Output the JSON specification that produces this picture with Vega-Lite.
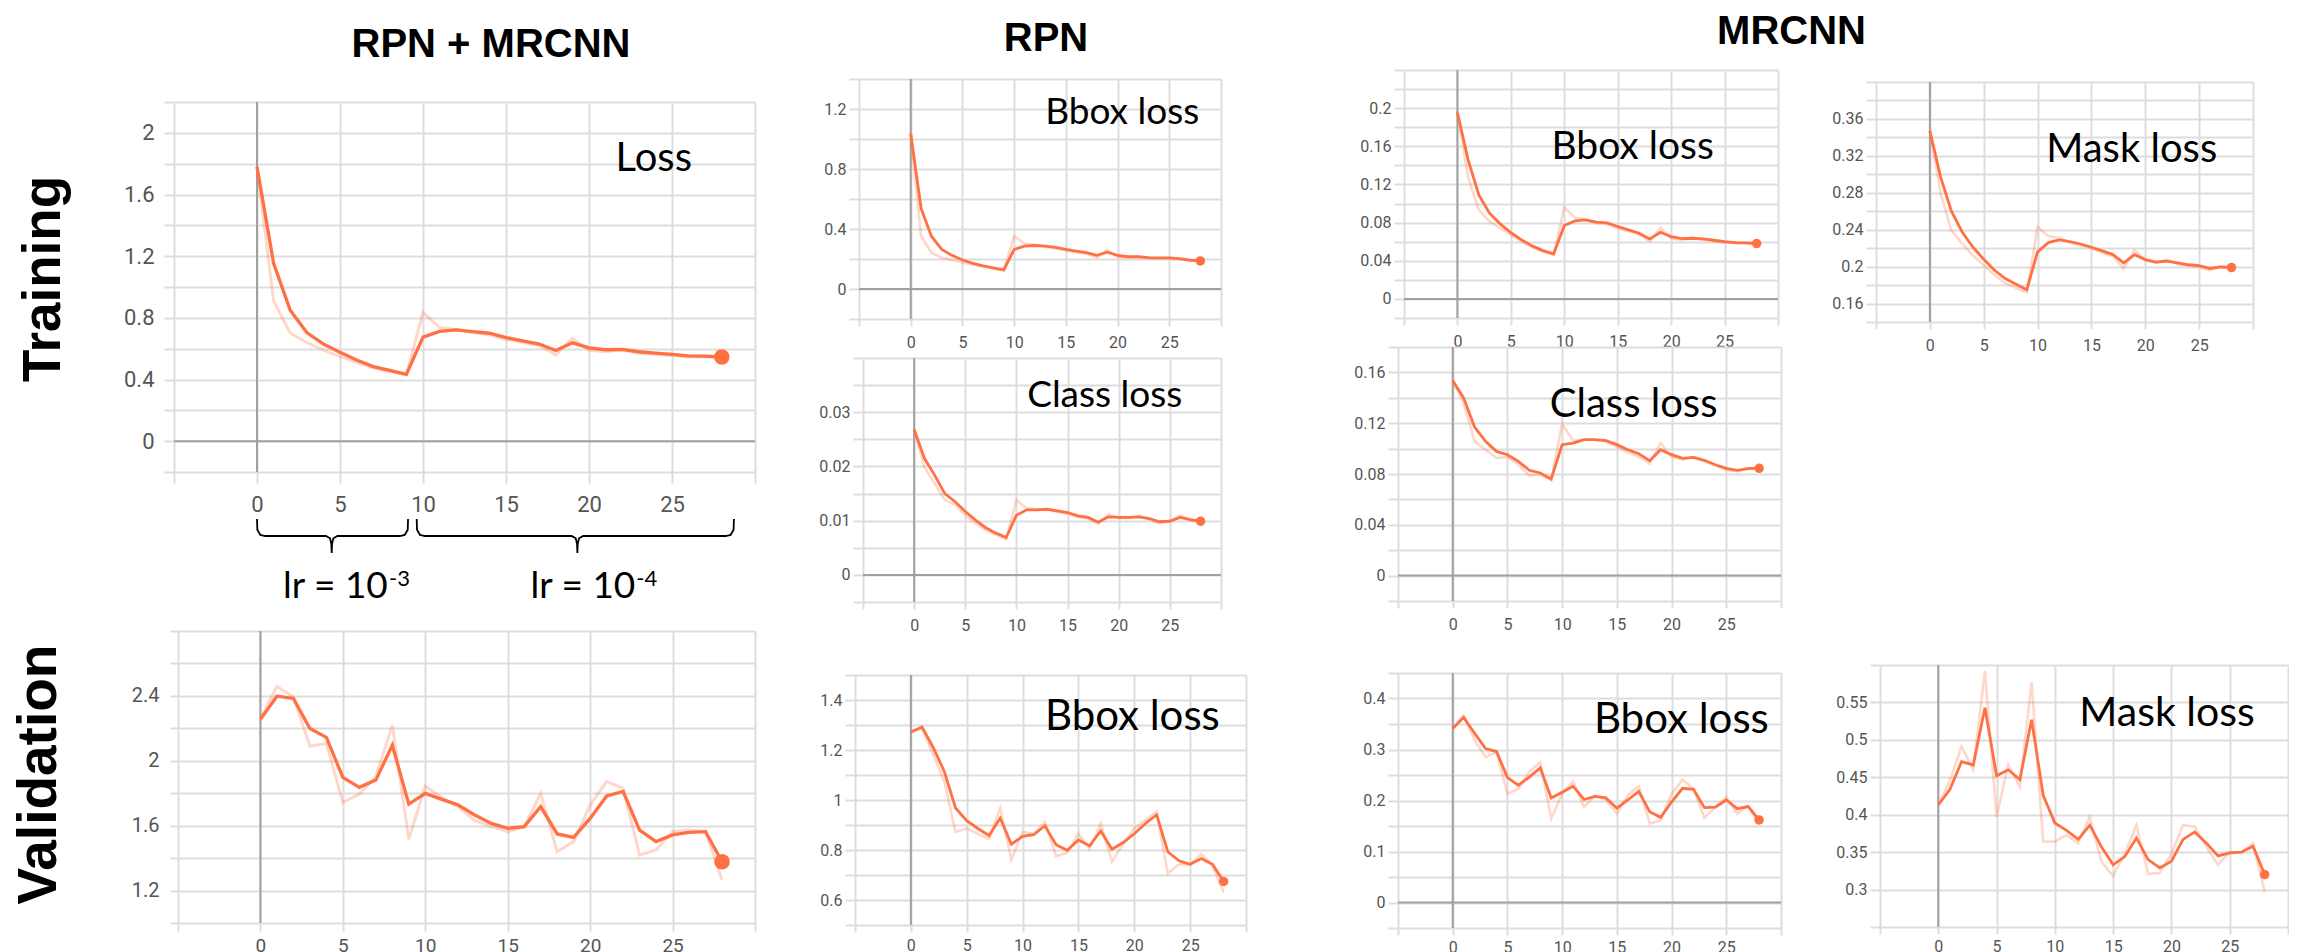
{
"$schema": "https://vega.github.io/schema/vega-lite/v6.json",
"padding": 0,
"background": "white",
"data": {"values": [{"k": 0}]},
"datasets": {
"trainTotal": [
{"step":0,"raw":1.78,"smoothed":1.78},{"step":1,"raw":0.91,"smoothed":1.154},{"step":2,"raw":0.70,"smoothed":0.85},{"step":3,"raw":0.64,"smoothed":0.705},{"step":4,"raw":0.59,"smoothed":0.63},{"step":5,"raw":0.55,"smoothed":0.576},{"step":6,"raw":0.51,"smoothed":0.526},{"step":7,"raw":0.476,"smoothed":0.484},{"step":8,"raw":0.45,"smoothed":0.459},{"step":9,"raw":0.43,"smoothed":0.434},{"step":10,"raw":0.836,"smoothed":0.675},{"step":11,"raw":0.737,"smoothed":0.712},{"step":12,"raw":0.725,"smoothed":0.722},{"step":13,"raw":0.705,"smoothed":0.71},{"step":14,"raw":0.69,"smoothed":0.70},{"step":15,"raw":0.66,"smoothed":0.672},{"step":16,"raw":0.64,"smoothed":0.65},{"step":17,"raw":0.62,"smoothed":0.63},{"step":18,"raw":0.56,"smoothed":0.588},{"step":19,"raw":0.667,"smoothed":0.638},{"step":20,"raw":0.59,"smoothed":0.605},{"step":21,"raw":0.58,"smoothed":0.593},{"step":22,"raw":0.593,"smoothed":0.596},{"step":23,"raw":0.57,"smoothed":0.58},{"step":24,"raw":0.563,"smoothed":0.571},{"step":25,"raw":0.556,"smoothed":0.563},{"step":26,"raw":0.546,"smoothed":0.553},{"step":27,"raw":0.548,"smoothed":0.551},{"step":28,"raw":0.543,"smoothed":0.546}],
"rpnBbox": [
{"step":0,"raw":1.037,"smoothed":1.037},{"step":1,"raw":0.352,"smoothed":0.538},{"step":2,"raw":0.242,"smoothed":0.352},{"step":3,"raw":0.209,"smoothed":0.264},{"step":4,"raw":0.193,"smoothed":0.224},{"step":5,"raw":0.176,"smoothed":0.193},{"step":6,"raw":0.163,"smoothed":0.171},{"step":7,"raw":0.149,"smoothed":0.154},{"step":8,"raw":0.136,"smoothed":0.141},{"step":9,"raw":0.125,"smoothed":0.127},{"step":10,"raw":0.352,"smoothed":0.264},{"step":11,"raw":0.303,"smoothed":0.286},{"step":12,"raw":0.295,"smoothed":0.29},{"step":13,"raw":0.281,"smoothed":0.286},{"step":14,"raw":0.27,"smoothed":0.277},{"step":15,"raw":0.257,"smoothed":0.264},{"step":16,"raw":0.246,"smoothed":0.253},{"step":17,"raw":0.235,"smoothed":0.242},{"step":18,"raw":0.209,"smoothed":0.224},{"step":19,"raw":0.259,"smoothed":0.246},{"step":20,"raw":0.215,"smoothed":0.224},{"step":21,"raw":0.209,"smoothed":0.215},{"step":22,"raw":0.215,"smoothed":0.215},{"step":23,"raw":0.204,"smoothed":0.209},{"step":24,"raw":0.204,"smoothed":0.207},{"step":25,"raw":0.204,"smoothed":0.207},{"step":26,"raw":0.198,"smoothed":0.202},{"step":27,"raw":0.189,"smoothed":0.193},{"step":28,"raw":0.185,"smoothed":0.187}],
"rpnClass": [
{"step":0,"raw":0.0268,"smoothed":0.0268},{"step":1,"raw":0.0199,"smoothed":0.0215},{"step":2,"raw":0.0169,"smoothed":0.0184},{"step":3,"raw":0.0138,"smoothed":0.015},{"step":4,"raw":0.0129,"smoothed":0.0135},{"step":5,"raw":0.011,"smoothed":0.0117},{"step":6,"raw":0.0095,"smoothed":0.0101},{"step":7,"raw":0.0083,"smoothed":0.0087},{"step":8,"raw":0.0074,"smoothed":0.0077},{"step":9,"raw":0.0066,"smoothed":0.0069},{"step":10,"raw":0.0138,"smoothed":0.011},{"step":11,"raw":0.0123,"smoothed":0.012},{"step":12,"raw":0.0121,"smoothed":0.012},{"step":13,"raw":0.0121,"smoothed":0.0121},{"step":14,"raw":0.0116,"smoothed":0.0118},{"step":15,"raw":0.0113,"smoothed":0.0115},{"step":16,"raw":0.0107,"smoothed":0.0109},{"step":17,"raw":0.0104,"smoothed":0.0106},{"step":18,"raw":0.0094,"smoothed":0.0097},{"step":19,"raw":0.0112,"smoothed":0.0107},{"step":20,"raw":0.0105,"smoothed":0.0106},{"step":21,"raw":0.0105,"smoothed":0.0106},{"step":22,"raw":0.0109,"smoothed":0.0107},{"step":23,"raw":0.0102,"smoothed":0.0104},{"step":24,"raw":0.0095,"smoothed":0.0098},{"step":25,"raw":0.0099,"smoothed":0.0099},{"step":26,"raw":0.011,"smoothed":0.0106},{"step":27,"raw":0.0101,"smoothed":0.0102},{"step":28,"raw":0.0098,"smoothed":0.0099}],
"mrcnnBbox": [
{"step":0,"raw":0.1955,"smoothed":0.1955},{"step":1,"raw":0.128,"smoothed":0.1458},{"step":2,"raw":0.0934,"smoothed":0.109},{"step":3,"raw":0.0811,"smoothed":0.0899},{"step":4,"raw":0.0741,"smoothed":0.0787},{"step":5,"raw":0.0671,"smoothed":0.0696},{"step":6,"raw":0.0601,"smoothed":0.0619},{"step":7,"raw":0.0542,"smoothed":0.0556},{"step":8,"raw":0.0497,"smoothed":0.0507},{"step":9,"raw":0.0462,"smoothed":0.0472},{"step":10,"raw":0.0958,"smoothed":0.0769},{"step":11,"raw":0.0853,"smoothed":0.0818},{"step":12,"raw":0.0829,"smoothed":0.0829},{"step":13,"raw":0.0794,"smoothed":0.0804},{"step":14,"raw":0.0787,"smoothed":0.0797},{"step":15,"raw":0.0741,"smoothed":0.0759},{"step":16,"raw":0.071,"smoothed":0.0724},{"step":17,"raw":0.0678,"smoothed":0.0689},{"step":18,"raw":0.0601,"smoothed":0.0629},{"step":19,"raw":0.0745,"smoothed":0.0699},{"step":20,"raw":0.0636,"smoothed":0.0654},{"step":21,"raw":0.0619,"smoothed":0.0633},{"step":22,"raw":0.064,"smoothed":0.0636},{"step":23,"raw":0.0619,"smoothed":0.0629},{"step":24,"raw":0.0605,"smoothed":0.0615},{"step":25,"raw":0.0591,"smoothed":0.0601},{"step":26,"raw":0.0584,"smoothed":0.0591},{"step":27,"raw":0.0584,"smoothed":0.0587},{"step":28,"raw":0.0577,"smoothed":0.058}],
"mask": [
{"step":0,"raw":0.347,"smoothed":0.347},{"step":1,"raw":0.279,"smoothed":0.297},{"step":2,"raw":0.239,"smoothed":0.26},{"step":3,"raw":0.225,"smoothed":0.2375},{"step":4,"raw":0.212,"smoothed":0.221},{"step":5,"raw":0.2015,"smoothed":0.208},{"step":6,"raw":0.191,"smoothed":0.196},{"step":7,"raw":0.182,"smoothed":0.187},{"step":8,"raw":0.177,"smoothed":0.181},{"step":9,"raw":0.172,"smoothed":0.175},{"step":10,"raw":0.243,"smoothed":0.216},{"step":11,"raw":0.233,"smoothed":0.226},{"step":12,"raw":0.231,"smoothed":0.229},{"step":13,"raw":0.226,"smoothed":0.227},{"step":14,"raw":0.223,"smoothed":0.2245},{"step":15,"raw":0.22,"smoothed":0.221},{"step":16,"raw":0.215,"smoothed":0.217},{"step":17,"raw":0.211,"smoothed":0.213},{"step":18,"raw":0.198,"smoothed":0.204},{"step":19,"raw":0.218,"smoothed":0.213},{"step":20,"raw":0.207,"smoothed":0.2076},{"step":21,"raw":0.204,"smoothed":0.205},{"step":22,"raw":0.2076,"smoothed":0.206},{"step":23,"raw":0.2025,"smoothed":0.204},{"step":24,"raw":0.201,"smoothed":0.202},{"step":25,"raw":0.1996,"smoothed":0.201},{"step":26,"raw":0.196,"smoothed":0.198},{"step":27,"raw":0.2004,"smoothed":0.1996},{"step":28,"raw":0.199,"smoothed":0.199}],
"mrcnnClass": [
{"step":0,"raw":0.1537,"smoothed":0.1537},{"step":1,"raw":0.1359,"smoothed":0.1398},{"step":2,"raw":0.1057,"smoothed":0.117},{"step":3,"raw":0.0991,"smoothed":0.1057},{"step":4,"raw":0.0926,"smoothed":0.0978},{"step":5,"raw":0.0934,"smoothed":0.0952},{"step":6,"raw":0.0873,"smoothed":0.09},{"step":7,"raw":0.0787,"smoothed":0.0829},{"step":8,"raw":0.0795,"smoothed":0.0808},{"step":9,"raw":0.075,"smoothed":0.0761},{"step":10,"raw":0.1196,"smoothed":0.1031},{"step":11,"raw":0.1062,"smoothed":0.1044},{"step":12,"raw":0.107,"smoothed":0.107},{"step":13,"raw":0.107,"smoothed":0.107},{"step":14,"raw":0.1057,"smoothed":0.1062},{"step":15,"raw":0.1012,"smoothed":0.1031},{"step":16,"raw":0.097,"smoothed":0.0991},{"step":17,"raw":0.0939,"smoothed":0.096},{"step":18,"raw":0.0881,"smoothed":0.0905},{"step":19,"raw":0.1044,"smoothed":0.0991},{"step":20,"raw":0.0934,"smoothed":0.0952},{"step":21,"raw":0.0913,"smoothed":0.0923},{"step":22,"raw":0.0934,"smoothed":0.0931},{"step":23,"raw":0.09,"smoothed":0.0908},{"step":24,"raw":0.0866,"smoothed":0.0873},{"step":25,"raw":0.0834,"smoothed":0.0845},{"step":26,"raw":0.0821,"smoothed":0.0829},{"step":27,"raw":0.0847,"smoothed":0.0842},{"step":28,"raw":0.0845,"smoothed":0.0845}],
"valTotal": [
{"step":0,"raw":2.256,"smoothed":2.256},{"step":1,"raw":2.459,"smoothed":2.398},{"step":2,"raw":2.394,"smoothed":2.384},{"step":3,"raw":2.09,"smoothed":2.199},{"step":4,"raw":2.107,"smoothed":2.144},{"step":5,"raw":1.742,"smoothed":1.897},{"step":6,"raw":1.795,"smoothed":1.836},{"step":7,"raw":1.902,"smoothed":1.881},{"step":8,"raw":2.22,"smoothed":2.096},{"step":9,"raw":1.516,"smoothed":1.733},{"step":10,"raw":1.844,"smoothed":1.799},{"step":11,"raw":1.774,"smoothed":1.762},{"step":12,"raw":1.717,"smoothed":1.727},{"step":13,"raw":1.631,"smoothed":1.666},{"step":14,"raw":1.594,"smoothed":1.614},{"step":15,"raw":1.563,"smoothed":1.584},{"step":16,"raw":1.594,"smoothed":1.594},{"step":17,"raw":1.799,"smoothed":1.717},{"step":18,"raw":1.44,"smoothed":1.549},{"step":19,"raw":1.502,"smoothed":1.528},{"step":20,"raw":1.727,"smoothed":1.645},{"step":21,"raw":1.871,"smoothed":1.783},{"step":22,"raw":1.83,"smoothed":1.811},{"step":23,"raw":1.419,"smoothed":1.573},{"step":24,"raw":1.45,"smoothed":1.502},{"step":25,"raw":1.563,"smoothed":1.543},{"step":26,"raw":1.573,"smoothed":1.559},{"step":27,"raw":1.563,"smoothed":1.563},{"step":28,"raw":1.266,"smoothed":1.378}],
"valRpn": [
{"step":0,"raw":1.272,"smoothed":1.272},{"step":1,"raw":1.286,"smoothed":1.292},{"step":2,"raw":1.182,"smoothed":1.21},{"step":3,"raw":1.072,"smoothed":1.113},{"step":4,"raw":0.872,"smoothed":0.968},{"step":5,"raw":0.886,"smoothed":0.917},{"step":6,"raw":0.865,"smoothed":0.886},{"step":7,"raw":0.844,"smoothed":0.858},{"step":8,"raw":0.968,"smoothed":0.927},{"step":9,"raw":0.761,"smoothed":0.823},{"step":10,"raw":0.872,"smoothed":0.855},{"step":11,"raw":0.865,"smoothed":0.861},{"step":12,"raw":0.913,"smoothed":0.897},{"step":13,"raw":0.775,"smoothed":0.821},{"step":14,"raw":0.789,"smoothed":0.799},{"step":15,"raw":0.865,"smoothed":0.84},{"step":16,"raw":0.803,"smoothed":0.817},{"step":17,"raw":0.906,"smoothed":0.876},{"step":18,"raw":0.754,"smoothed":0.803},{"step":19,"raw":0.823,"smoothed":0.83},{"step":20,"raw":0.886,"smoothed":0.865},{"step":21,"raw":0.92,"smoothed":0.906},{"step":22,"raw":0.954,"smoothed":0.941},{"step":23,"raw":0.706,"smoothed":0.793},{"step":24,"raw":0.743,"smoothed":0.757},{"step":25,"raw":0.741,"smoothed":0.743},{"step":26,"raw":0.785,"smoothed":0.766},{"step":27,"raw":0.738,"smoothed":0.743},{"step":28,"raw":0.63,"smoothed":0.674}],
"valMrcnn": [
{"step":0,"raw":0.341,"smoothed":0.341},{"step":1,"raw":0.367,"smoothed":0.363},{"step":2,"raw":0.318,"smoothed":0.332},{"step":3,"raw":0.285,"smoothed":0.302},{"step":4,"raw":0.295,"smoothed":0.296},{"step":5,"raw":0.213,"smoothed":0.245},{"step":6,"raw":0.223,"smoothed":0.23},{"step":7,"raw":0.256,"smoothed":0.246},{"step":8,"raw":0.275,"smoothed":0.264},{"step":9,"raw":0.165,"smoothed":0.205},{"step":10,"raw":0.213,"smoothed":0.216},{"step":11,"raw":0.238,"smoothed":0.228},{"step":12,"raw":0.187,"smoothed":0.202},{"step":13,"raw":0.21,"smoothed":0.208},{"step":14,"raw":0.201,"smoothed":0.205},{"step":15,"raw":0.174,"smoothed":0.185},{"step":16,"raw":0.21,"smoothed":0.201},{"step":17,"raw":0.228,"smoothed":0.218},{"step":18,"raw":0.155,"smoothed":0.178},{"step":19,"raw":0.161,"smoothed":0.167},{"step":20,"raw":0.213,"smoothed":0.197},{"step":21,"raw":0.241,"smoothed":0.224},{"step":22,"raw":0.223,"smoothed":0.222},{"step":23,"raw":0.166,"smoothed":0.186},{"step":24,"raw":0.187,"smoothed":0.187},{"step":25,"raw":0.207,"smoothed":0.201},{"step":26,"raw":0.174,"smoothed":0.184},{"step":27,"raw":0.19,"smoothed":0.188},{"step":28,"raw":0.151,"smoothed":0.162}],
"valMask": [
{"step":0,"raw":0.413,"smoothed":0.413},{"step":1,"raw":0.446,"smoothed":0.434},{"step":2,"raw":0.491,"smoothed":0.471},{"step":3,"raw":0.46,"smoothed":0.4665},{"step":4,"raw":0.592,"smoothed":0.543},{"step":5,"raw":0.397,"smoothed":0.452},{"step":6,"raw":0.4665,"smoothed":0.46},{"step":7,"raw":0.4375,"smoothed":0.447},{"step":8,"raw":0.577,"smoothed":0.527},{"step":9,"raw":0.364,"smoothed":0.426},{"step":10,"raw":0.364,"smoothed":0.389},{"step":11,"raw":0.373,"smoothed":0.379},{"step":12,"raw":0.362,"smoothed":0.367},{"step":13,"raw":0.397,"smoothed":0.386},{"step":14,"raw":0.337,"smoothed":0.357},{"step":15,"raw":0.318,"smoothed":0.333},{"step":16,"raw":0.348,"smoothed":0.344},{"step":17,"raw":0.386,"smoothed":0.369},{"step":18,"raw":0.321,"smoothed":0.34},{"step":19,"raw":0.322,"smoothed":0.329},{"step":20,"raw":0.348,"smoothed":0.338},{"step":21,"raw":0.386,"smoothed":0.367},{"step":22,"raw":0.384,"smoothed":0.377},{"step":23,"raw":0.357,"smoothed":0.362},{"step":24,"raw":0.333,"smoothed":0.345},{"step":25,"raw":0.35,"smoothed":0.349},{"step":26,"raw":0.349,"smoothed":0.35},{"step":27,"raw":0.362,"smoothed":0.358},{"step":28,"raw":0.297,"smoothed":0.32}],
"braces": [
{"brace":"a","i":0,"x":0.0,"y":0.863},{"brace":"a","i":1,"x":0.02,"y":0.75},{"brace":"a","i":2,"x":0.2,"y":0.695},{"brace":"a","i":3,"x":0.5,"y":0.684},{"brace":"a","i":4,"x":4.15,"y":0.684},{"brace":"a","i":5,"x":4.4,"y":0.66},{"brace":"a","i":6,"x":4.48,"y":0.6},{"brace":"a","i":7,"x":4.5,"y":0.505},{"brace":"a","i":8,"x":4.52,"y":0.6},{"brace":"a","i":9,"x":4.6,"y":0.66},{"brace":"a","i":10,"x":4.85,"y":0.684},{"brace":"a","i":11,"x":8.6,"y":0.684},{"brace":"a","i":12,"x":8.9,"y":0.695},{"brace":"a","i":13,"x":9.08,"y":0.75},{"brace":"a","i":14,"x":9.1,"y":0.863},
{"brace":"b","i":0,"x":9.62,"y":0.863},{"brace":"b","i":1,"x":9.64,"y":0.75},{"brace":"b","i":2,"x":9.82,"y":0.695},{"brace":"b","i":3,"x":10.12,"y":0.684},{"brace":"b","i":4,"x":18.95,"y":0.684},{"brace":"b","i":5,"x":19.2,"y":0.66},{"brace":"b","i":6,"x":19.28,"y":0.6},{"brace":"b","i":7,"x":19.3,"y":0.505},{"brace":"b","i":8,"x":19.32,"y":0.6},{"brace":"b","i":9,"x":19.4,"y":0.66},{"brace":"b","i":10,"x":19.65,"y":0.684},{"brace":"b","i":11,"x":28.23,"y":0.684},{"brace":"b","i":12,"x":28.53,"y":0.695},{"brace":"b","i":13,"x":28.71,"y":0.75},{"brace":"b","i":14,"x":28.73,"y":0.863}]
},
"spacing": 0,
"bounds": "flush",
"resolve": {"scale": {"x": "independent", "y": "independent"}},
"hconcat": [
{"spacing": 0, "bounds": "flush", "vconcat": [
 {"spacing": 0, "bounds": "flush", "hconcat": [
  {"width": 174, "height": 1, "mark": {"type": "text", "text": ""}},
  {"width": 581, "height": 96, "mark": {"type": "text", "text": "RPN + MRCNN", "font": "Liberation Sans", "fontWeight": "bold", "fontSize": 40, "align": "center", "baseline": "middle", "dx": 26.5, "dy": -9.2, "color": "#000"}}
 ]},
 {"width": 1, "height": 96, "mark": {"type": "text", "text": ""}},
 {"spacing": 0, "bounds": "flush", "hconcat": [
  {"width": 174, "height": 370, "mark": {"type": "text", "text": "Training", "font": "Liberation Sans", "fontWeight": "bold", "fontSize": 53, "angle": 270, "align": "center", "baseline": "middle", "dx": 8, "dy": -43.5, "color": "#000"}},
  {"width": 581, "height": 370, "data": {"name": "trainTotal"}, "resolve": {"axis": {"y": "independent"}}, "layer": [
   {"data": {"values": [{"k": 0}]}, "mark": {"type": "rule", "color": "#a0a0a0", "strokeWidth": 2}, "encoding": {"x": {"datum": 0, "type": "quantitative", "scale": {"domain": [-5, 30], "nice": false, "zero": false}}}},
   {"data": {"values": [{"k": 0}]}, "mark": {"type": "rule", "color": "#a0a0a0", "strokeWidth": 2}, "encoding": {"y": {"datum": 0, "type": "quantitative", "scale": {"domain": [-0.2, 2.2], "nice": false, "zero": false}, "axis": null}}},
   {"mark": {"type": "line", "color": "#ff7043", "opacity": 0.28, "strokeWidth": 3}, "encoding": {"x": {"field": "step", "type": "quantitative", "scale": {"domain": [-5, 30], "nice": false, "zero": false}}, "y": {"field": "raw", "type": "quantitative", "scale": {"domain": [-0.2, 2.2], "nice": false, "zero": false}, "axis": {"values": [-0.2,0.2,0.6,1,1.4,1.8,2.2], "labels": false, "grid": true, "title": null, "orient": "left", "tickSize": 10}}}},
   {"mark": {"type": "line", "color": "#ff7043", "strokeWidth": 3.3}, "encoding": {"x": {"field": "step", "type": "quantitative", "scale": {"domain": [-5, 30], "nice": false, "zero": false}, "axis": {"values": [-5,0,5,10,15,20,25,30], "labelExpr": "datum.value >= 0 && datum.value <= 25 ? datum.label : ''", "title": null, "grid": true, "labelOverlap": false, "labelFontSize": 22, "tickSize": 11, "labelPadding": 11}}, "y": {"field": "smoothed", "type": "quantitative", "scale": {"domain": [-0.2, 2.2], "nice": false, "zero": false}, "axis": {"values": [0,0.4,0.8,1.2,1.6,2], "labelExpr": "'' + datum.value", "grid": true, "title": null, "orient": "left", "labelOverlap": false, "labelFontSize": 22, "tickSize": 10, "labelPadding": 10}}}},
   {"transform": [{"filter": "datum.step == 28"}], "mark": {"type": "point", "filled": true, "opacity": 1, "color": "#ff7043", "size": 240}, "encoding": {"x": {"field": "step", "type": "quantitative", "scale": {"domain": [-5, 30], "nice": false, "zero": false}}, "y": {"field": "smoothed", "type": "quantitative", "scale": {"domain": [-0.2, 2.2], "nice": false, "zero": false}, "axis": null}}},
   {"data": {"values": [{"label": "Loss"}]}, "mark": {"type": "text", "font": "Lato", "fontSize": 40, "align": "left", "baseline": "alphabetic", "color": "#000"}, "encoding": {"x": {"datum": 21.6, "type": "quantitative"}, "y": {"datum": 1.75, "type": "quantitative", "axis": null}, "text": {"field": "label"}}}
  ]}
 ]},
 {"width": 1, "height": 404, "mark": {"type": "text", "text": ""}},
 {"spacing": 0, "bounds": "flush", "hconcat": [
  {"width": 174, "height": 1, "mark": {"type": "text", "text": ""}},
  {"width": 581, "height": 95, "layer": [
   {"data": {"name": "braces"}, "mark": {"type": "line", "color": "#000", "strokeWidth": 1.8}, "encoding": {"x": {"field": "x", "type": "quantitative", "scale": {"domain": [-5, 30], "nice": false, "zero": false}, "axis": null}, "y": {"field": "y", "type": "quantitative", "scale": {"domain": [0, 1], "nice": false, "zero": false}, "axis": null}, "detail": {"field": "brace"}, "order": {"field": "i"}}},
   {"data": {"values": [{"label": "lr = 10"}]}, "mark": {"type": "text", "font": "Lato", "fontSize": 37, "align": "left", "baseline": "alphabetic", "color": "#000"}, "encoding": {"x": {"datum": 1.57, "type": "quantitative", "axis": null}, "y": {"datum": 0.032, "type": "quantitative", "axis": null}, "text": {"field": "label"}}},
   {"data": {"values": [{"label": "-3"}]}, "mark": {"type": "text", "font": "Lato", "fontSize": 22, "align": "left", "baseline": "alphabetic", "color": "#000"}, "encoding": {"x": {"datum": 7.95, "type": "quantitative", "axis": null}, "y": {"datum": 0.158, "type": "quantitative", "axis": null}, "text": {"field": "label"}}},
   {"data": {"values": [{"label": "lr = 10"}]}, "mark": {"type": "text", "font": "Lato", "fontSize": 37, "align": "left", "baseline": "alphabetic", "color": "#000"}, "encoding": {"x": {"datum": 16.48, "type": "quantitative", "axis": null}, "y": {"datum": 0.032, "type": "quantitative", "axis": null}, "text": {"field": "label"}}},
   {"data": {"values": [{"label": "-4"}]}, "mark": {"type": "text", "font": "Lato", "fontSize": 22, "align": "left", "baseline": "alphabetic", "color": "#000"}, "encoding": {"x": {"datum": 22.85, "type": "quantitative", "axis": null}, "y": {"datum": 0.158, "type": "quantitative", "axis": null}, "text": {"field": "label"}}}
  ]}
 ]},
 {"width": 1, "height": 125, "mark": {"type": "text", "text": ""}},
 {"spacing": 0, "bounds": "flush", "hconcat": [
  {"width": 178, "height": 292, "mark": {"type": "text", "text": "Validation", "font": "Liberation Sans", "fontWeight": "bold", "fontSize": 55, "angle": 270, "align": "center", "baseline": "middle", "dx": 2.5, "dy": -50, "color": "#000"}},
  {"width": 577, "height": 292, "data": {"name": "valTotal"}, "resolve": {"axis": {"y": "independent"}}, "layer": [
   {"data": {"values": [{"k": 0}]}, "mark": {"type": "rule", "color": "#a0a0a0", "strokeWidth": 2}, "encoding": {"x": {"datum": 0, "type": "quantitative", "scale": {"domain": [-5, 30], "nice": false, "zero": false}}}},
   {"mark": {"type": "line", "color": "#ff7043", "opacity": 0.28, "strokeWidth": 3}, "encoding": {"x": {"field": "step", "type": "quantitative", "scale": {"domain": [-5, 30], "nice": false, "zero": false}}, "y": {"field": "raw", "type": "quantitative", "scale": {"domain": [1.0, 2.8], "nice": false, "zero": false}, "axis": {"values": [1,1.4,1.8,2.2,2.6,2.8], "labels": false, "grid": true, "title": null, "orient": "left", "tickSize": 8}}}},
   {"mark": {"type": "line", "color": "#ff7043", "strokeWidth": 3.3}, "encoding": {"x": {"field": "step", "type": "quantitative", "scale": {"domain": [-5, 30], "nice": false, "zero": false}, "axis": {"values": [-5,0,5,10,15,20,25,30], "labelExpr": "datum.value >= 0 && datum.value <= 25 ? datum.label : ''", "title": null, "grid": true, "labelOverlap": false, "labelFontSize": 19, "tickSize": 8, "labelPadding": 5}}, "y": {"field": "smoothed", "type": "quantitative", "scale": {"domain": [1.0, 2.8], "nice": false, "zero": false}, "axis": {"values": [1.2,1.6,2,2.4], "labelExpr": "'' + datum.value", "grid": true, "title": null, "orient": "left", "labelOverlap": false, "labelFontSize": 20, "tickSize": 8, "labelPadding": 11}}}},
   {"transform": [{"filter": "datum.step == 28"}], "mark": {"type": "point", "filled": true, "opacity": 1, "color": "#ff7043", "size": 240}, "encoding": {"x": {"field": "step", "type": "quantitative", "scale": {"domain": [-5, 30], "nice": false, "zero": false}}, "y": {"field": "smoothed", "type": "quantitative", "scale": {"domain": [1.0, 2.8], "nice": false, "zero": false}, "axis": null}}}
  ]}
 ]}
]},
{"spacing": 0, "bounds": "flush", "vconcat": [
 {"spacing": 0, "bounds": "flush", "hconcat": [
  {"width": 859, "height": 1, "mark": {"type": "text", "text": ""}},
  {"width": 362, "height": 73, "mark": {"type": "text", "text": "RPN", "font": "Liberation Sans", "fontWeight": "bold", "fontSize": 40, "align": "center", "baseline": "middle", "dx": 6, "dy": -3.2, "color": "#000"}}
 ]},
 {"width": 1, "height": 73, "mark": {"type": "text", "text": ""}},
 {"spacing": 0, "bounds": "flush", "hconcat": [
  {"width": 859, "height": 1, "mark": {"type": "text", "text": ""}},
  {"width": 362, "height": 240, "data": {"name": "rpnBbox"}, "resolve": {"axis": {"y": "independent"}}, "layer": [
   {"data": {"values": [{"k": 0}]}, "mark": {"type": "rule", "color": "#a0a0a0", "strokeWidth": 2}, "encoding": {"x": {"datum": 0, "type": "quantitative", "scale": {"domain": [-5, 30], "nice": false, "zero": false}}}},
   {"data": {"values": [{"k": 0}]}, "mark": {"type": "rule", "color": "#a0a0a0", "strokeWidth": 2}, "encoding": {"y": {"datum": 0, "type": "quantitative", "scale": {"domain": [-0.2, 1.4], "nice": false, "zero": false}, "axis": null}}},
   {"mark": {"type": "line", "color": "#ff7043", "opacity": 0.28, "strokeWidth": 2.6}, "encoding": {"x": {"field": "step", "type": "quantitative", "scale": {"domain": [-5, 30], "nice": false, "zero": false}}, "y": {"field": "raw", "type": "quantitative", "scale": {"domain": [-0.2, 1.4], "nice": false, "zero": false}, "axis": {"values": [-0.2,0.2,0.6,1,1.4], "labels": false, "grid": true, "title": null, "orient": "left"}}}},
   {"mark": {"type": "line", "color": "#ff7043", "strokeWidth": 2.8}, "encoding": {"x": {"field": "step", "type": "quantitative", "scale": {"domain": [-5, 30], "nice": false, "zero": false}, "axis": {"values": [-5,0,5,10,15,20,25,30], "labelExpr": "datum.value >= 0 && datum.value <= 25 ? datum.label : ''", "title": null, "grid": true, "labelOverlap": false}}, "y": {"field": "smoothed", "type": "quantitative", "scale": {"domain": [-0.2, 1.4], "nice": false, "zero": false}, "axis": {"values": [0,0.4,0.8,1.2], "labelExpr": "'' + datum.value", "grid": true, "title": null, "orient": "left", "labelOverlap": false}}}},
   {"transform": [{"filter": "datum.step == 28"}], "mark": {"type": "point", "filled": true, "opacity": 1, "color": "#ff7043", "size": 90}, "encoding": {"x": {"field": "step", "type": "quantitative", "scale": {"domain": [-5, 30], "nice": false, "zero": false}}, "y": {"field": "smoothed", "type": "quantitative", "scale": {"domain": [-0.2, 1.4], "nice": false, "zero": false}, "axis": null}}},
   {"data": {"values": [{"label": "Bbox loss"}]}, "mark": {"type": "text", "font": "Lato", "fontSize": 37, "align": "left", "baseline": "alphabetic", "color": "#000"}, "encoding": {"x": {"datum": 13.0, "type": "quantitative"}, "y": {"datum": 1.1, "type": "quantitative", "axis": null}, "text": {"field": "label"}}}
  ]}
 ]},
 {"width": 1, "height": 279, "mark": {"type": "text", "text": ""}},
 {"spacing": 0, "bounds": "flush", "hconcat": [
  {"width": 863, "height": 1, "mark": {"type": "text", "text": ""}},
  {"width": 358, "height": 244, "data": {"name": "rpnClass"}, "resolve": {"axis": {"y": "independent"}}, "layer": [
   {"data": {"values": [{"k": 0}]}, "mark": {"type": "rule", "color": "#a0a0a0", "strokeWidth": 2}, "encoding": {"x": {"datum": 0, "type": "quantitative", "scale": {"domain": [-5, 30], "nice": false, "zero": false}}}},
   {"data": {"values": [{"k": 0}]}, "mark": {"type": "rule", "color": "#a0a0a0", "strokeWidth": 2}, "encoding": {"y": {"datum": 0, "type": "quantitative", "scale": {"domain": [-0.005, 0.04], "nice": false, "zero": false}, "axis": null}}},
   {"mark": {"type": "line", "color": "#ff7043", "opacity": 0.28, "strokeWidth": 2.6}, "encoding": {"x": {"field": "step", "type": "quantitative", "scale": {"domain": [-5, 30], "nice": false, "zero": false}}, "y": {"field": "raw", "type": "quantitative", "scale": {"domain": [-0.005, 0.04], "nice": false, "zero": false}, "axis": {"values": [-0.005,0.005,0.015,0.025,0.035,0.04], "labels": false, "grid": true, "title": null, "orient": "left"}}}},
   {"mark": {"type": "line", "color": "#ff7043", "strokeWidth": 2.8}, "encoding": {"x": {"field": "step", "type": "quantitative", "scale": {"domain": [-5, 30], "nice": false, "zero": false}, "axis": {"values": [-5,0,5,10,15,20,25,30], "labelExpr": "datum.value >= 0 && datum.value <= 25 ? datum.label : ''", "title": null, "grid": true, "labelOverlap": false}}, "y": {"field": "smoothed", "type": "quantitative", "scale": {"domain": [-0.005, 0.04], "nice": false, "zero": false}, "axis": {"values": [0,0.01,0.02,0.03], "labelExpr": "'' + datum.value", "grid": true, "title": null, "orient": "left", "labelOverlap": false}}}},
   {"transform": [{"filter": "datum.step == 28"}], "mark": {"type": "point", "filled": true, "opacity": 1, "color": "#ff7043", "size": 90}, "encoding": {"x": {"field": "step", "type": "quantitative", "scale": {"domain": [-5, 30], "nice": false, "zero": false}}, "y": {"field": "smoothed", "type": "quantitative", "scale": {"domain": [-0.005, 0.04], "nice": false, "zero": false}, "axis": null}}},
   {"data": {"values": [{"label": "Class loss"}]}, "mark": {"type": "text", "font": "Lato", "fontSize": 37, "align": "left", "baseline": "alphabetic", "color": "#000"}, "encoding": {"x": {"datum": 11.05, "type": "quantitative"}, "y": {"datum": 0.031, "type": "quantitative", "axis": null}, "text": {"field": "label"}}}
  ]}
 ]},
 {"width": 1, "height": 317, "mark": {"type": "text", "text": ""}},
 {"spacing": 0, "bounds": "flush", "hconcat": [
  {"width": 855, "height": 1, "mark": {"type": "text", "text": ""}},
  {"width": 391, "height": 250, "data": {"name": "valRpn"}, "resolve": {"axis": {"y": "independent"}}, "layer": [
   {"data": {"values": [{"k": 0}]}, "mark": {"type": "rule", "color": "#a0a0a0", "strokeWidth": 2}, "encoding": {"x": {"datum": 0, "type": "quantitative", "scale": {"domain": [-5, 30], "nice": false, "zero": false}}}},
   {"mark": {"type": "line", "color": "#ff7043", "opacity": 0.28, "strokeWidth": 2.6}, "encoding": {"x": {"field": "step", "type": "quantitative", "scale": {"domain": [-5, 30], "nice": false, "zero": false}}, "y": {"field": "raw", "type": "quantitative", "scale": {"domain": [0.5, 1.5], "nice": false, "zero": false}, "axis": {"values": [0.5,0.7,0.9,1.1,1.3,1.5], "labels": false, "grid": true, "title": null, "orient": "left"}}}},
   {"mark": {"type": "line", "color": "#ff7043", "strokeWidth": 2.8}, "encoding": {"x": {"field": "step", "type": "quantitative", "scale": {"domain": [-5, 30], "nice": false, "zero": false}, "axis": {"values": [-5,0,5,10,15,20,25,30], "labelExpr": "datum.value >= 0 && datum.value <= 25 ? datum.label : ''", "title": null, "grid": true, "labelOverlap": false, "labelPadding": 5}}, "y": {"field": "smoothed", "type": "quantitative", "scale": {"domain": [0.5, 1.5], "nice": false, "zero": false}, "axis": {"values": [0.6,0.8,1,1.2,1.4], "labelExpr": "'' + datum.value", "grid": true, "title": null, "orient": "left", "labelOverlap": false}}}},
   {"transform": [{"filter": "datum.step == 28"}], "mark": {"type": "point", "filled": true, "opacity": 1, "color": "#ff7043", "size": 90}, "encoding": {"x": {"field": "step", "type": "quantitative", "scale": {"domain": [-5, 30], "nice": false, "zero": false}}, "y": {"field": "smoothed", "type": "quantitative", "scale": {"domain": [0.5, 1.5], "nice": false, "zero": false}, "axis": null}}},
   {"data": {"values": [{"label": "Bbox loss"}]}, "mark": {"type": "text", "font": "Lato", "fontSize": 42, "align": "left", "baseline": "alphabetic", "color": "#000"}, "encoding": {"x": {"datum": 12.0, "type": "quantitative"}, "y": {"datum": 1.28, "type": "quantitative", "axis": null}, "text": {"field": "label"}}}
  ]}
 ]}
]},
{"spacing": 0, "bounds": "flush", "vconcat": [
 {"spacing": 0, "bounds": "flush", "hconcat": [
  {"width": 1404, "height": 1, "mark": {"type": "text", "text": ""}},
  {"width": 374, "height": 64, "mark": {"type": "text", "text": "MRCNN", "font": "Liberation Sans", "fontWeight": "bold", "fontSize": 40, "align": "center", "baseline": "middle", "dx": 200.5, "dy": -5.7, "color": "#000"}}
 ]},
 {"width": 1, "height": 64, "mark": {"type": "text", "text": ""}},
 {"spacing": 0, "bounds": "flush", "hconcat": [
  {"width": 1404, "height": 1, "mark": {"type": "text", "text": ""}},
  {"width": 374, "height": 248, "data": {"name": "mrcnnBbox"}, "resolve": {"axis": {"y": "independent"}}, "layer": [
   {"data": {"values": [{"k": 0}]}, "mark": {"type": "rule", "color": "#a0a0a0", "strokeWidth": 2}, "encoding": {"x": {"datum": 0, "type": "quantitative", "scale": {"domain": [-5, 30], "nice": false, "zero": false}}}},
   {"data": {"values": [{"k": 0}]}, "mark": {"type": "rule", "color": "#a0a0a0", "strokeWidth": 2}, "encoding": {"y": {"datum": 0, "type": "quantitative", "scale": {"domain": [-0.02, 0.24], "nice": false, "zero": false}, "axis": null}}},
   {"mark": {"type": "line", "color": "#ff7043", "opacity": 0.28, "strokeWidth": 2.6}, "encoding": {"x": {"field": "step", "type": "quantitative", "scale": {"domain": [-5, 30], "nice": false, "zero": false}}, "y": {"field": "raw", "type": "quantitative", "scale": {"domain": [-0.02, 0.24], "nice": false, "zero": false}, "axis": {"values": [-0.02,0.02,0.06,0.1,0.14,0.18,0.22,0.24], "labels": false, "grid": true, "title": null, "orient": "left"}}}},
   {"mark": {"type": "line", "color": "#ff7043", "strokeWidth": 2.8}, "encoding": {"x": {"field": "step", "type": "quantitative", "scale": {"domain": [-5, 30], "nice": false, "zero": false}, "axis": {"values": [-5,0,5,10,15,20,25,30], "labelExpr": "datum.value >= 0 && datum.value <= 25 ? datum.label : ''", "title": null, "grid": true, "labelOverlap": false}}, "y": {"field": "smoothed", "type": "quantitative", "scale": {"domain": [-0.02, 0.24], "nice": false, "zero": false}, "axis": {"values": [0,0.04,0.08,0.12,0.16,0.2], "labelExpr": "'' + datum.value", "grid": true, "title": null, "orient": "left", "labelOverlap": false}}}},
   {"transform": [{"filter": "datum.step == 28"}], "mark": {"type": "point", "filled": true, "opacity": 1, "color": "#ff7043", "size": 90}, "encoding": {"x": {"field": "step", "type": "quantitative", "scale": {"domain": [-5, 30], "nice": false, "zero": false}}, "y": {"field": "smoothed", "type": "quantitative", "scale": {"domain": [-0.02, 0.24], "nice": false, "zero": false}, "axis": null}}},
   {"data": {"values": [{"label": "Bbox loss"}]}, "mark": {"type": "text", "font": "Lato", "fontSize": 39, "align": "left", "baseline": "alphabetic", "color": "#000"}, "encoding": {"x": {"datum": 8.8, "type": "quantitative"}, "y": {"datum": 0.147, "type": "quantitative", "axis": null}, "text": {"field": "label"}}}
  ]}
 ]},
 {"width": 1, "height": 277, "mark": {"type": "text", "text": ""}},
 {"spacing": 0, "bounds": "flush", "hconcat": [
  {"width": 1398, "height": 1, "mark": {"type": "text", "text": ""}},
  {"width": 383, "height": 254, "data": {"name": "mrcnnClass"}, "resolve": {"axis": {"y": "independent"}}, "layer": [
   {"data": {"values": [{"k": 0}]}, "mark": {"type": "rule", "color": "#a0a0a0", "strokeWidth": 2}, "encoding": {"x": {"datum": 0, "type": "quantitative", "scale": {"domain": [-5, 30], "nice": false, "zero": false}}}},
   {"data": {"values": [{"k": 0}]}, "mark": {"type": "rule", "color": "#a0a0a0", "strokeWidth": 2}, "encoding": {"y": {"datum": 0, "type": "quantitative", "scale": {"domain": [-0.02, 0.18], "nice": false, "zero": false}, "axis": null}}},
   {"mark": {"type": "line", "color": "#ff7043", "opacity": 0.28, "strokeWidth": 2.6}, "encoding": {"x": {"field": "step", "type": "quantitative", "scale": {"domain": [-5, 30], "nice": false, "zero": false}}, "y": {"field": "raw", "type": "quantitative", "scale": {"domain": [-0.02, 0.18], "nice": false, "zero": false}, "axis": {"values": [-0.02,0.02,0.06,0.1,0.14,0.18], "labels": false, "grid": true, "title": null, "orient": "left"}}}},
   {"mark": {"type": "line", "color": "#ff7043", "strokeWidth": 2.8}, "encoding": {"x": {"field": "step", "type": "quantitative", "scale": {"domain": [-5, 30], "nice": false, "zero": false}, "axis": {"values": [-5,0,5,10,15,20,25,30], "labelExpr": "datum.value >= 0 && datum.value <= 25 ? datum.label : ''", "title": null, "grid": true, "labelOverlap": false}}, "y": {"field": "smoothed", "type": "quantitative", "scale": {"domain": [-0.02, 0.18], "nice": false, "zero": false}, "axis": {"values": [0,0.04,0.08,0.12,0.16], "labelExpr": "'' + datum.value", "grid": true, "title": null, "orient": "left", "labelOverlap": false}}}},
   {"transform": [{"filter": "datum.step == 28"}], "mark": {"type": "point", "filled": true, "opacity": 1, "color": "#ff7043", "size": 90}, "encoding": {"x": {"field": "step", "type": "quantitative", "scale": {"domain": [-5, 30], "nice": false, "zero": false}}, "y": {"field": "smoothed", "type": "quantitative", "scale": {"domain": [-0.02, 0.18], "nice": false, "zero": false}, "axis": null}}},
   {"data": {"values": [{"label": "Class loss"}]}, "mark": {"type": "text", "font": "Lato", "fontSize": 40, "align": "left", "baseline": "alphabetic", "color": "#000"}, "encoding": {"x": {"datum": 8.87, "type": "quantitative"}, "y": {"datum": 0.125, "type": "quantitative", "axis": null}, "text": {"field": "label"}}}
  ]}
 ]},
 {"width": 1, "height": 326, "mark": {"type": "text", "text": ""}},
 {"spacing": 0, "bounds": "flush", "hconcat": [
  {"width": 1398, "height": 1, "mark": {"type": "text", "text": ""}},
  {"width": 383, "height": 255, "data": {"name": "valMrcnn"}, "resolve": {"axis": {"y": "independent"}}, "layer": [
   {"data": {"values": [{"k": 0}]}, "mark": {"type": "rule", "color": "#a0a0a0", "strokeWidth": 2}, "encoding": {"x": {"datum": 0, "type": "quantitative", "scale": {"domain": [-5, 30], "nice": false, "zero": false}}}},
   {"data": {"values": [{"k": 0}]}, "mark": {"type": "rule", "color": "#a0a0a0", "strokeWidth": 2}, "encoding": {"y": {"datum": 0, "type": "quantitative", "scale": {"domain": [-0.05, 0.45], "nice": false, "zero": false}, "axis": null}}},
   {"mark": {"type": "line", "color": "#ff7043", "opacity": 0.28, "strokeWidth": 2.6}, "encoding": {"x": {"field": "step", "type": "quantitative", "scale": {"domain": [-5, 30], "nice": false, "zero": false}}, "y": {"field": "raw", "type": "quantitative", "scale": {"domain": [-0.05, 0.45], "nice": false, "zero": false}, "axis": {"values": [-0.05,0.05,0.15,0.25,0.35,0.45], "labels": false, "grid": true, "title": null, "orient": "left"}}}},
   {"mark": {"type": "line", "color": "#ff7043", "strokeWidth": 2.8}, "encoding": {"x": {"field": "step", "type": "quantitative", "scale": {"domain": [-5, 30], "nice": false, "zero": false}, "axis": {"values": [-5,0,5,10,15,20,25,30], "labelExpr": "datum.value >= 0 && datum.value <= 25 ? datum.label : ''", "title": null, "grid": true, "labelOverlap": false, "labelPadding": 4}}, "y": {"field": "smoothed", "type": "quantitative", "scale": {"domain": [-0.05, 0.45], "nice": false, "zero": false}, "axis": {"values": [0,0.1,0.2,0.3,0.4], "labelExpr": "'' + datum.value", "grid": true, "title": null, "orient": "left", "labelOverlap": false}}}},
   {"transform": [{"filter": "datum.step == 28"}], "mark": {"type": "point", "filled": true, "opacity": 1, "color": "#ff7043", "size": 90}, "encoding": {"x": {"field": "step", "type": "quantitative", "scale": {"domain": [-5, 30], "nice": false, "zero": false}}, "y": {"field": "smoothed", "type": "quantitative", "scale": {"domain": [-0.05, 0.45], "nice": false, "zero": false}, "axis": null}}},
   {"data": {"values": [{"label": "Bbox loss"}]}, "mark": {"type": "text", "font": "Lato", "fontSize": 42, "align": "left", "baseline": "alphabetic", "color": "#000"}, "encoding": {"x": {"datum": 12.9, "type": "quantitative"}, "y": {"datum": 0.333, "type": "quantitative", "axis": null}, "text": {"field": "label"}}}
  ]}
 ]}
]},
{"spacing": 0, "bounds": "flush", "vconcat": [
 {"width": 1, "height": 76, "mark": {"type": "text", "text": ""}},
 {"spacing": 0, "bounds": "flush", "hconcat": [
  {"width": 1876, "height": 1, "mark": {"type": "text", "text": ""}},
  {"width": 377, "height": 240, "data": {"name": "mask"}, "resolve": {"axis": {"y": "independent"}}, "layer": [
   {"data": {"values": [{"k": 0}]}, "mark": {"type": "rule", "color": "#a0a0a0", "strokeWidth": 2}, "encoding": {"x": {"datum": 0, "type": "quantitative", "scale": {"domain": [-5, 30], "nice": false, "zero": false}}}},
   {"mark": {"type": "line", "color": "#ff7043", "opacity": 0.28, "strokeWidth": 2.6}, "encoding": {"x": {"field": "step", "type": "quantitative", "scale": {"domain": [-5, 30], "nice": false, "zero": false}}, "y": {"field": "raw", "type": "quantitative", "scale": {"domain": [0.14, 0.4], "nice": false, "zero": false}, "axis": {"values": [0.14,0.18,0.22,0.26,0.3,0.34,0.38,0.4], "labels": false, "grid": true, "title": null, "orient": "left"}}}},
   {"mark": {"type": "line", "color": "#ff7043", "strokeWidth": 2.8}, "encoding": {"x": {"field": "step", "type": "quantitative", "scale": {"domain": [-5, 30], "nice": false, "zero": false}, "axis": {"values": [-5,0,5,10,15,20,25,30], "labelExpr": "datum.value >= 0 && datum.value <= 25 ? datum.label : ''", "title": null, "grid": true, "labelOverlap": false}}, "y": {"field": "smoothed", "type": "quantitative", "scale": {"domain": [0.14, 0.4], "nice": false, "zero": false}, "axis": {"values": [0.16,0.2,0.24,0.28,0.32,0.36], "labelExpr": "'' + datum.value", "grid": true, "title": null, "orient": "left", "labelOverlap": false}}}},
   {"transform": [{"filter": "datum.step == 28"}], "mark": {"type": "point", "filled": true, "opacity": 1, "color": "#ff7043", "size": 90}, "encoding": {"x": {"field": "step", "type": "quantitative", "scale": {"domain": [-5, 30], "nice": false, "zero": false}}, "y": {"field": "smoothed", "type": "quantitative", "scale": {"domain": [0.14, 0.4], "nice": false, "zero": false}, "axis": null}}},
   {"data": {"values": [{"label": "Mask loss"}]}, "mark": {"type": "text", "font": "Lato", "fontSize": 40, "align": "left", "baseline": "alphabetic", "color": "#000"}, "encoding": {"x": {"datum": 10.8, "type": "quantitative"}, "y": {"datum": 0.313, "type": "quantitative", "axis": null}, "text": {"field": "label"}}}
  ]}
 ]},
 {"width": 1, "height": 583, "mark": {"type": "text", "text": ""}},
 {"spacing": 0, "bounds": "flush", "hconcat": [
  {"width": 1880, "height": 1, "mark": {"type": "text", "text": ""}},
  {"width": 408, "height": 262, "data": {"name": "valMask"}, "resolve": {"axis": {"y": "independent"}}, "layer": [
   {"data": {"values": [{"k": 0}]}, "mark": {"type": "rule", "color": "#a0a0a0", "strokeWidth": 2}, "encoding": {"x": {"datum": 0, "type": "quantitative", "scale": {"domain": [-5, 30], "nice": false, "zero": false}}}},
   {"mark": {"type": "line", "color": "#ff7043", "opacity": 0.28, "strokeWidth": 2.6}, "encoding": {"x": {"field": "step", "type": "quantitative", "scale": {"domain": [-5, 30], "nice": false, "zero": false}}, "y": {"field": "raw", "type": "quantitative", "scale": {"domain": [0.25, 0.6], "nice": false, "zero": false}, "axis": {"values": [0.25,0.6], "labels": false, "grid": true, "title": null, "orient": "left"}}}},
   {"mark": {"type": "line", "color": "#ff7043", "strokeWidth": 2.8}, "encoding": {"x": {"field": "step", "type": "quantitative", "scale": {"domain": [-5, 30], "nice": false, "zero": false}, "axis": {"values": [-5,0,5,10,15,20,25,30], "labelExpr": "datum.value >= 0 && datum.value <= 25 ? datum.label : ''", "title": null, "grid": true, "labelOverlap": false, "labelPadding": 4}}, "y": {"field": "smoothed", "type": "quantitative", "scale": {"domain": [0.25, 0.6], "nice": false, "zero": false}, "axis": {"values": [0.3,0.35,0.4,0.45,0.5,0.55], "labelExpr": "'' + datum.value", "grid": true, "title": null, "orient": "left", "labelOverlap": false}}}},
   {"transform": [{"filter": "datum.step == 28"}], "mark": {"type": "point", "filled": true, "opacity": 1, "color": "#ff7043", "size": 90}, "encoding": {"x": {"field": "step", "type": "quantitative", "scale": {"domain": [-5, 30], "nice": false, "zero": false}}, "y": {"field": "smoothed", "type": "quantitative", "scale": {"domain": [0.25, 0.6], "nice": false, "zero": false}, "axis": null}}},
   {"data": {"values": [{"label": "Mask loss"}]}, "mark": {"type": "text", "font": "Lato", "fontSize": 41, "align": "left", "baseline": "alphabetic", "color": "#000"}, "encoding": {"x": {"datum": 12.1, "type": "quantitative"}, "y": {"datum": 0.518, "type": "quantitative", "axis": null}, "text": {"field": "label"}}}
  ]}
 ]}
]}
],
"config": {
 "view": {"stroke": null},
 "axis": {"grid": true, "gridColor": "#dddddd", "gridWidth": 2, "domain": false, "tickColor": "#dddddd", "tickWidth": 2, "labelFont": "Roboto", "labelFontSize": 16, "labelColor": "#555555", "labelOverlap": false, "labelFlush": false, "labelBound": false},
 "axisX": {"tickSize": 7, "labelPadding": 8},
 "axisY": {"tickSize": 10, "labelPadding": 3}
}
}
